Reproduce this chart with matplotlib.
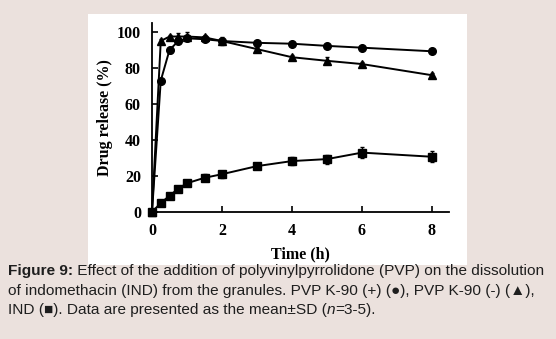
import matplotlib
matplotlib.use("Agg")
import matplotlib.pyplot as plt
from matplotlib.patches import Rectangle

time_h = [0, 0.25, 0.5, 0.75, 1, 1.5, 2, 3, 4, 5, 6, 8]
pvp_plus = [0, 73, 90, 95, 96.5, 96, 95, 94, 93.5, 92.3, 91.3, 89.3]
pvp_plus_sd = [0, 1, 1.5, 1, 1, 1, 1, 1, 1, 1, 1, 1]
pvp_minus = [0, 95, 97.5, 97.5, 97.5, 97, 95, 90.5, 86, 84, 82.2, 76]
pvp_minus_sd = [0, 1, 1, 2, 2.5, 1.5, 2, 1, 1, 2, 1, 1]
ind = [0, 5, 9, 13, 16, 19, 21, 25.5, 28.3, 29.4, 33, 30.7]
ind_sd = [0, 0.5, 1, 1, 1, 2, 2, 1, 2, 2.5, 3, 3]

xticks = [0, 2, 4, 6, 8]
yticks = [0, 20, 40, 60, 80, 100]

bg = "#ebe1dd"
fig = plt.figure(figsize=(5.56, 3.39), dpi=100, facecolor=bg)

# white panel behind the plot
fig.patches.append(Rectangle((0.158, 0.218), 0.682, 0.741, transform=fig.transFigure,
                             facecolor="white", edgecolor="none", zorder=0))

ax = fig.add_axes([0.2734, 0.3746, 0.535, 0.5575])
ax.set_zorder(2)
ax.set_facecolor("none")
ax.set_xlim(0, 8.5)
ax.set_ylim(0, 105)

serif = "Liberation Serif"
for y, sd, m in [(pvp_plus, pvp_plus_sd, "o"), (pvp_minus, pvp_minus_sd, "^"), (ind, ind_sd, "s")]:
    ax.errorbar(time_h, y, yerr=sd, color="black", lw=1.4, marker=m, ms=5.5,
                capsize=1.5, elinewidth=1, clip_on=False, zorder=3)

ax.spines["top"].set_visible(False)
ax.spines["right"].set_visible(False)
ax.spines["left"].set_linewidth(1.3)
ax.spines["bottom"].set_linewidth(1.3)
ax.set_xticks(xticks)
ax.set_yticks(yticks)
ax.tick_params(direction="in", length=4, width=1.2, labelsize=11.5)
ax.tick_params(axis="x", pad=8)
ax.tick_params(axis="y", pad=8)
for lab in ax.get_xticklabels() + ax.get_yticklabels():
    lab.set_fontfamily(serif)
    lab.set_fontweight("bold")
ax.set_xlabel("Time (h)", fontfamily=serif, fontweight="bold", fontsize=11.5, labelpad=5)
ax.set_ylabel("Drug release (%)", fontfamily=serif, fontweight="bold", fontsize=11.5, labelpad=3)

# caption
cap = ["Liberation Sans", "DejaVu Sans"]
fs = 11.05
col = "#1e1e1e"
t1 = fig.text(0.0144, 0.2006, "Figure 9:", fontsize=fs, fontweight="bold", family=cap,
              color=col, va="center")
ax.annotate(" Effect of the addition of polyvinylpyrrolidone (PVP) on the dissolution",
            xy=(1, 0), xycoords=t1, fontsize=fs, family=cap, color=col, va="bottom",
            annotation_clip=False)
fig.text(0.0144, 0.1416, "of indomethacin (IND) from the granules. PVP K-90 (+) (\u25cf), PVP K-90 (-) (\u25b2),",
         fontsize=fs, family=cap, color=col, va="center")
t3 = fig.text(0.0144, 0.0855, "IND (\u25a0). Data are presented as the mean\u00b1SD (",
              fontsize=fs, family=cap, color=col, va="center")
t4 = ax.annotate("n", xy=(1, 0), xycoords=t3, fontsize=fs, family=cap, color=col,
                 style="italic", va="bottom", annotation_clip=False)
ax.annotate("=3-5).", xy=(1, 0), xycoords=t4, fontsize=fs, family=cap, color=col,
            va="bottom", annotation_clip=False)

fig.savefig("out.png", dpi=100, facecolor=bg)
